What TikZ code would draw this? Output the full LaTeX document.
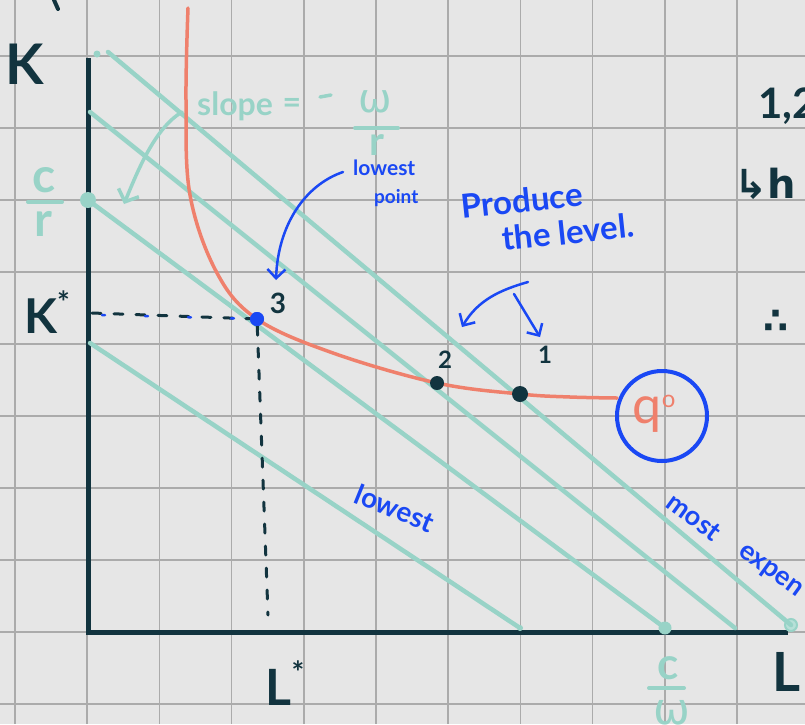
\documentclass[tikz,border=0pt]{standalone}
\usepackage{fontspec}
\setmainfont{Lato}
\newfontfamily\symfont{DejaVu Sans}
\usetikzlibrary{arrows.meta,calc}
\definecolor{bgc}{HTML}{E6E6E6}
\definecolor{gridc}{HTML}{ABABAB}
\definecolor{ink}{HTML}{12343F}
\definecolor{tealc}{HTML}{98D3C7}
\definecolor{salmon}{HTML}{EF806C}
\definecolor{pen}{HTML}{1A48F4}
\tikzset{
  gridline/.style={draw=gridc, line width=1.6pt},
  axisline/.style={draw=ink, line width=5pt},
  budget/.style={draw=tealc, line width=4.5pt, line cap=round},
  iso/.style={draw=salmon, line width=3.5pt, line cap=round},
  guide/.style={draw=ink, line width=3pt, dash pattern=on 9pt off 13pt, line cap=round},
  tealtxt/.style={text=tealc, inner sep=0pt},
  inktxt/.style={text=ink, inner sep=0pt},
  pentxt/.style={text=pen, inner sep=0pt},
  dotn/.style={circle, inner sep=0pt, minimum size=#1},
  penarrow/.style={draw=pen, line width=2.5pt, line cap=round, -{Straight Barb[length=9pt,width=18pt,line width=2.5pt]}},
  tealarrow/.style={draw=tealc, line width=3.5pt, line cap=round, -{Straight Barb[length=10pt,width=22pt,line width=3.5pt]}},
}
\begin{document}
\begin{tikzpicture}[x=1pt,y=-1pt]
\fill[bgc] (0,0) rectangle (805,724);
\useasboundingbox (0,0) rectangle (805,724);
% grid
\foreach \i in {0,...,11} \draw[gridline] ({15+72.2*\i},0) -- ({15+72.2*\i},724);
\foreach \i in {0,...,9} \draw[gridline] (0,{56+72*\i}) -- (805,{56+72*\i});

% axes
\coordinate (ytop) at (88,58);
\coordinate (origin) at (88,632);
\coordinate (xend) at (788,632);
\draw[axisline] (ytop) -- (origin) -- (xend);
\coordinate (topmarkA) at (54,0);
\coordinate (topmarkB) at (58,9);
\draw[ink, line width=4pt, line cap=round] (topmarkA) -- (topmarkB);

% budget line end points
\node[dotn=7pt, fill=tealc] (a0) at (97,54) {};
\coordinate (a1) at (108,52);
\node[dotn=12pt, draw=tealc, line width=2pt, fill=tealc!70] (a2) at (791,625) {};
\coordinate (b1) at (90,112);
\coordinate (b2) at (735,628);
\node[dotn=16pt, fill=tealc] (c1) at (88,200) {};
\node[dotn=13pt, fill=tealc] (c2) at (665,628) {};
\coordinate (d1) at (90,343);
\node[dotn=6pt, fill=tealc] (d2) at (520,628) {};

\draw[budget] (a1) -- (a2.center);
\draw[budget] (b1) -- (b2);
\draw[budget] (c1.center) -- (c2.center);
\draw[budget] (d1) -- (d2.center);

% guides
\coordinate (kstar) at (92,313);
\coordinate (lstar) at (268,615);
\node[dotn=14pt, fill=pen] (p3) at (257,319) {};
\draw[guide] (kstar) -- (p3);
\draw[pen, line width=2.5pt, dash pattern=on 3pt off 40pt, line cap=round] ($(kstar)+(10,2)$) -- (p3);
\draw[guide] (p3) -- (lstar);

% isoquant
\node[draw=pen, line width=4pt, circle, minimum size=90pt, inner sep=0pt] (q0) at (662,416) {};
\node[text=salmon, inner sep=0pt, font=\fontsize{52}{52}\selectfont] (qtxt) at (654,414) {q\raisebox{16pt}{\fontsize{24}{24}\selectfont o}};
\draw[iso] plot[smooth, tension=0.6] coordinates {(188,8) (186,100) (190,195) (217,273) (257,319) (333,353) (437,383) (520,394) (570,397) (617,398)};

\node[dotn=14pt, fill=ink] (p2) at (437,383) {};
\node[dotn=16pt, fill=ink] (p1) at (520,394) {};
\node[dotn=14pt, fill=pen] at (p3) {};

% point labels
\node[inktxt, font=\fontsize{28}{28}\selectfont\bfseries] (l3) at (278,303) {3};
\node[inktxt, font=\fontsize{24}{24}\selectfont\bfseries] (l2) at (445,360) {2};
\node[inktxt, font=\fontsize{24}{24}\selectfont\bfseries] (l1) at (545,355) {1};

% axis labels
\node[inktxt, font=\fontsize{56}{56}\selectfont\bfseries] (K) at (25,64) {K};
\node[inktxt, font=\fontsize{48}{48}\selectfont\bfseries] (Ks) at (47,312) {K\raisebox{20pt}{\fontsize{30}{30}\selectfont *}};
\node[inktxt, font=\fontsize{50}{50}\selectfont\bfseries] (Ls) at (285,683) {L\raisebox{22pt}{\fontsize{30}{30}\selectfont *}};
\node[inktxt, font=\fontsize{54}{54}\selectfont\bfseries, anchor=west] (L) at (772,672) {L};

% c/r
\node[tealtxt, font=\fontsize{48}{48}\selectfont\bfseries] (cr1) at (44,180) {c};
\draw[tealc, line width=4pt, line cap=round] (28,202) -- (62,202);
\node[tealtxt, font=\fontsize{48}{48}\selectfont\bfseries] (cr2) at (43,224) {r};
% c/w
\node[tealtxt, font=\fontsize{44}{44}\selectfont\bfseries] (cw1) at (668,668) {c};
\draw[tealc, line width=4pt, line cap=round] (649,688) -- (684,688);
\node[tealtxt, font=\fontsize{44}{44}\selectfont\symfont] (cw2) at (672,713) {ω};

% slope
\node[tealtxt, font=\fontsize{32}{32}\selectfont\bfseries, anchor=west] (slope) at (197,106) {slope};
\node[tealtxt, font=\fontsize{32}{32}\selectfont\bfseries] (eq) at (292,106) {=};
\draw[tealc, line width=3.5pt, line cap=round] (320,97) -- (331,95);
\node[tealtxt, font=\fontsize{40}{40}\selectfont\symfont] (wr1) at (375,102) {ω};
\draw[tealc, line width=4pt, line cap=round] (355,128) -- (398,128);
\node[tealtxt, font=\fontsize{40}{40}\selectfont\bfseries] (wr2) at (377,145) {r};
\coordinate (slopefrom) at (182,112);
\coordinate (slopeto) at (124,204);
\draw[tealarrow] (slopefrom) .. controls (155,128) and (138,170) .. (slopeto);

% lowest point
\node[pentxt, font=\fontsize{21}{21}\selectfont\bfseries, anchor=west] (lw) at (353,168) {lowest};
\node[pentxt, font=\fontsize{19}{19}\selectfont\bfseries, anchor=west] (pt) at (374,198) {point};
\coordinate (lpfrom) at (343,172);
\coordinate (lpto) at (276,280);
\draw[penarrow] (lpfrom) .. controls (305,185) and (278,225) .. (lpto);

% produce the level
\node[pentxt, font=\fontsize{33}{33}\selectfont\bfseries, rotate=6] (prod) at (522,200) {Produce};
\node[pentxt, font=\fontsize{33}{33}\selectfont\bfseries, rotate=6] (lev) at (568,232) {the level.};
\coordinate (fork) at (528,282);
\coordinate (forkmid) at (514,294);
\coordinate (arrL) at (462,327);
\coordinate (arrR) at (540,337);
\draw[penarrow] (fork) .. controls (500,290) and (478,300) .. (arrL);
\draw[penarrow] (forkmid) -- (arrR);

% lowest / most expen
\node[pentxt, font=\fontsize{28}{28}\selectfont\bfseries, rotate=-22] (lowest) at (395,508) {lowest};
\node[pentxt, font=\fontsize{27}{27}\selectfont\bfseries, rotate=-36] (most) at (694,517) {most};
\node[pentxt, font=\fontsize{27}{27}\selectfont\bfseries, rotate=-36, anchor=west] (expen) at (740,550) {expen};

% right notes
\node[inktxt, font=\fontsize{42}{42}\selectfont\bfseries, anchor=west] (n12) at (758,106) {1,2};
\node[inktxt, font=\fontsize{40}{40}\selectfont\symfont\bfseries, anchor=west] (n2) at (734,184) {↳h};
\node[inktxt, font=\fontsize{36}{36}\selectfont\symfont\bfseries] (n3) at (776,322) {∴};
\end{tikzpicture}
\end{document}
